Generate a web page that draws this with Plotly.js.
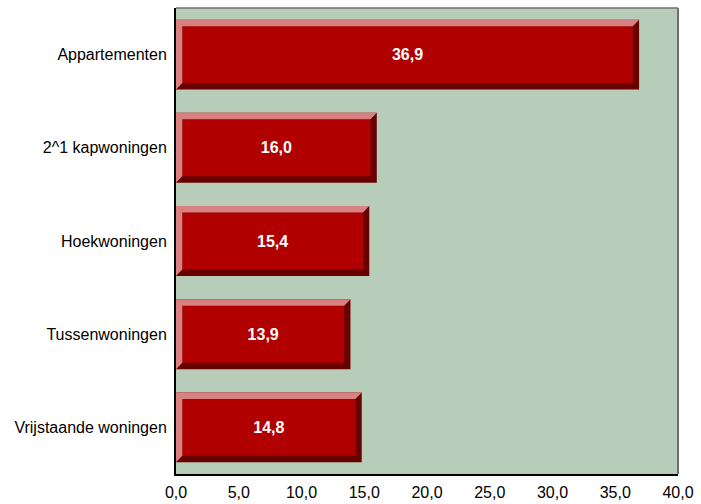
<!DOCTYPE html>
<html>
<head>
<meta charset="utf-8">
<script src="https://cdn.plot.ly/plotly-3.0.1.min.js"></script>
<style>html,body{margin:0;padding:0;background:#fff;}#chart{width:701px;height:504px;}</style>
</head>
<body>
<div id="chart"></div>
<script>
var categories = ["Appartementen", "2^1 kapwoningen", "Hoekwoningen", "Tussenwoningen", "Vrijstaande woningen"];
var values = [36.9, 16.0, 15.4, 13.9, 14.8];
var xTicks = [0, 5, 10, 15, 20, 25, 30, 35, 40];

var idx = categories.map(function (c, i) { return i; });
var barH = 0.75;      // bar thickness in category units
var ex = 0.5;         // bevel depth along x (data units)
var dy = 0.07;        // bevel depth along y (category units)

var outer = {
  type: 'bar', orientation: 'h',
  y: idx, x: values, base: 0, width: barH,
  marker: {color: '#680000', line: {width: 0}},
  hoverinfo: 'skip', showlegend: false
};
var face = {
  type: 'bar', orientation: 'h',
  y: idx, x: values.map(function (v) { return v - 2 * ex; }),
  base: ex, width: barH - 2 * dy,
  marker: {color: '#b00000', line: {width: 0}},
  text: values.map(function (v) { return v.toFixed(1).replace('.', ','); }),
  textposition: 'inside', insidetextanchor: 'middle',
  textfont: {family: 'Liberation Sans, Arial, sans-serif', size: 16, color: '#ffffff', weight: 'bold'},
  hoverinfo: 'skip', showlegend: false
};

var shapes = values.map(function (v, i) {
  var yt = i - barH / 2, yb = i + barH / 2;
  var p = 'M 0 ' + yt + ' L ' + v + ' ' + yt + ' L ' + (v - ex) + ' ' + (yt + dy) +
          ' L ' + ex + ' ' + (yt + dy) + ' L ' + ex + ' ' + (yb - dy) + ' L 0 ' + yb + ' Z';
  return {type: 'path', xref: 'x', yref: 'y', path: p, fillcolor: '#d98080', line: {width: 0}, layer: 'above'};
});
shapes.push({type: 'line', xref: 'paper', yref: 'paper', x0: 0, x1: 1, y0: 1, y1: 1, line: {color: '#707070', width: 1.5}});
shapes.push({type: 'line', xref: 'paper', yref: 'paper', x0: 1, x1: 1, y0: 0, y1: 1, line: {color: '#707070', width: 2}});

var layout = {
  width: 701, height: 504,
  margin: {l: 176, r: 23, t: 8, b: 30},
  paper_bgcolor: '#ffffff', plot_bgcolor: '#b8cdb9',
  barmode: 'overlay', separators: ',.',
  font: {family: 'Liberation Sans, Arial, sans-serif', color: '#000000'},
  xaxis: {range: [0, 40], tickvals: xTicks, ticktext: xTicks.map(function (t) { return t.toFixed(1).replace('.', ','); }),
          showgrid: false, zeroline: false, showline: true, linecolor: '#000000', linewidth: 2,
          ticks: '', ticklabelstandoff: 3, tickfont: {size: 16}, fixedrange: true},
  yaxis: {range: [4.5, -0.5], tickvals: idx, ticktext: categories, showgrid: false, zeroline: false,
          showline: true, linecolor: '#000000', linewidth: 2, ticks: '', ticklen: 0, ticklabelstandoff: 4,
          tickfont: {size: 16}, fixedrange: true},
  shapes: shapes
};

Plotly.newPlot('chart', [outer, face], layout, {displayModeBar: false, staticPlot: true});
</script>
</body>
</html>
